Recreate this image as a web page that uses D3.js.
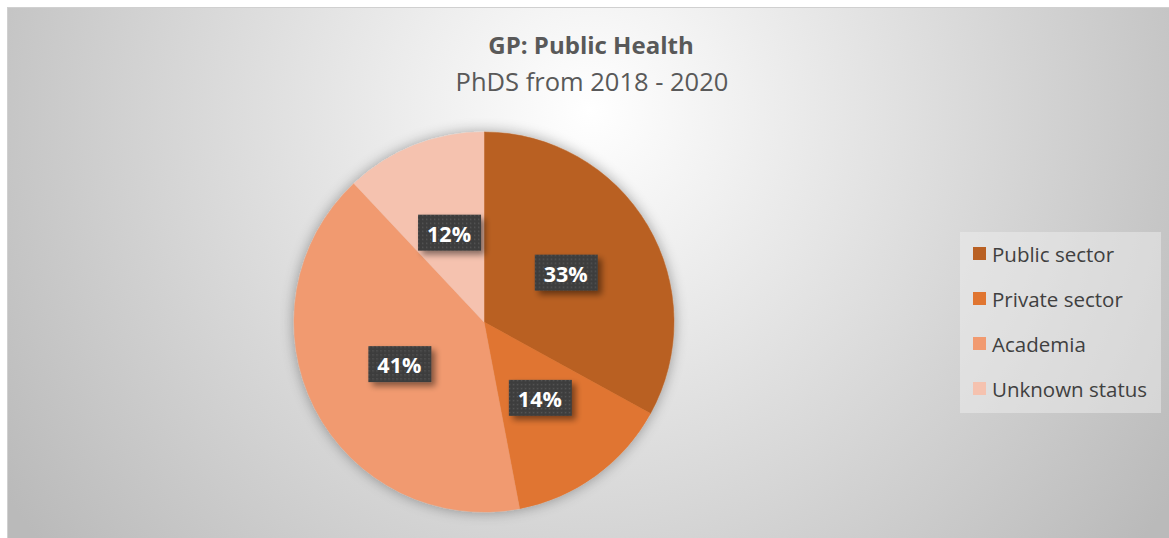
<!DOCTYPE html>
<html>
<head>
<meta charset="utf-8">
<script src="https://cdn.jsdelivr.net/npm/d3@7"></script>
<style>
  html, body { margin: 0; padding: 0; background: #fff; }
  svg { display: block; }
</style>
</head>
<body>
<svg id="chart" width="1169" height="538"></svg>
<script>
var width = 1169, height = 538;

// data
const categories = ['Public sector', 'Private sector', 'Academia', 'Unknown status'];
const values = [33, 14, 41, 12];
const colors = ['#B96023', '#E07530', '#F19A70', '#F5C2AF'];
const titleText = 'GP: Public Health';
const subtitleText = 'PhDS from 2018 - 2020';

const svg = d3.select('svg#chart');
const defs = svg.append('defs');

// background gradient, white near the title and grey to the corners
const bg = defs.append('radialGradient')
  .attr('id', 'bgGrad')
  .attr('gradientUnits', 'userSpaceOnUse')
  .attr('cx', 590).attr('cy', 110).attr('r', 700);
bg.append('stop').attr('offset', '0%').attr('stop-color', '#ffffff');
bg.append('stop').attr('offset', '100%').attr('stop-color', '#bababa');

// soft shadow for the pie and labels
const sh = defs.append('filter').attr('id', 'pieShadow')
  .attr('x', '-20%').attr('y', '-20%').attr('width', '140%').attr('height', '140%');
sh.append('feGaussianBlur').attr('in', 'SourceAlpha').attr('stdDeviation', 7).attr('result', 'b');
sh.append('feComponentTransfer').attr('in', 'b').attr('result', 'b2')
  .append('feFuncA').attr('type', 'linear').attr('slope', 0.35);
let m = sh.append('feMerge');
m.append('feMergeNode').attr('in', 'b2');
m.append('feMergeNode').attr('in', 'SourceGraphic');

const lsh = defs.append('filter').attr('id', 'lblShadow')
  .attr('x', '-30%').attr('y', '-30%').attr('width', '170%').attr('height', '180%');
lsh.append('feGaussianBlur').attr('in', 'SourceAlpha').attr('stdDeviation', 3).attr('result', 'b');
lsh.append('feOffset').attr('in', 'b').attr('dx', 4).attr('dy', 4).attr('result', 'o');
lsh.append('feComponentTransfer').attr('in', 'o').attr('result', 'o2')
  .append('feFuncA').attr('type', 'linear').attr('slope', 0.45);
m = lsh.append('feMerge');
m.append('feMergeNode').attr('in', 'o2');
m.append('feMergeNode').attr('in', 'SourceGraphic');

// dotted fill for the data label boxes
const pat = defs.append('pattern').attr('id', 'dots')
  .attr('patternUnits', 'userSpaceOnUse').attr('width', 4).attr('height', 4);
pat.append('rect').attr('width', 4).attr('height', 4).attr('fill', '#3e3e3e');
pat.append('rect').attr('x', 1).attr('y', 1).attr('width', 1.3).attr('height', 1.3).attr('fill', '#575757');

// chart area
svg.append('rect')
  .attr('x', 7.5).attr('y', 7.5)
  .attr('width', width).attr('height', height)
  .attr('fill', 'url(#bgGrad)')
  .attr('stroke', '#d0d0d0');

// titles
svg.append('text')
  .attr('x', 591).attr('y', 54)
  .attr('text-anchor', 'middle')
  .style('font-family', 'Open Sans, sans-serif')
  .style('font-size', '24px').style('font-weight', 'bold')
  .attr('fill', '#595959')
  .text(titleText);

svg.append('text')
  .attr('x', 592).attr('y', 91)
  .attr('text-anchor', 'middle')
  .style('font-family', 'Open Sans, sans-serif')
  .style('font-size', '25.5px')
  .attr('fill', '#595959')
  .text(subtitleText);

// pie
const cx = 484, cy = 322, R = 190;
const pie = d3.pie().sort(null).value(d => d.value);
const arc = d3.arc().innerRadius(0).outerRadius(R);
const data = categories.map((c, i) => ({ name: c, value: values[i], color: colors[i] }));
const arcs = pie(data);

const g = svg.append('g').attr('transform', `translate(${cx},${cy})`);

g.append('g')
  .attr('filter', 'url(#pieShadow)')
  .selectAll('path')
  .data(arcs)
  .enter().append('path')
  .attr('d', arc)
  .attr('fill', d => d.data.color)
  .attr('stroke', d => d.data.color)
  .attr('stroke-width', 0.5);

// labels
const lbl = g.selectAll('g.lbl')
  .data(arcs)
  .enter().append('g')
  .attr('class', 'lbl')
  .attr('transform', d => `translate(${arc.centroid(d)})`);

lbl.append('rect')
  .attr('x', -31).attr('y', -19)
  .attr('width', 63).attr('height', 36)
  .attr('fill', 'url(#dots)')
  .attr('filter', 'url(#lblShadow)');

lbl.append('text')
  .attr('text-anchor', 'middle')
  .attr('y', 8)
  .style('font-family', 'Open Sans, sans-serif')
  .style('font-size', '21.5px').style('font-weight', 'bold')
  .attr('fill', '#ffffff')
  .text(d => d.data.value + '%');

// legend
const leg = svg.append('g');
leg.append('rect')
  .attr('x', 960).attr('y', 232)
  .attr('width', 201).attr('height', 181)
  .attr('fill', '#f2f2f2').attr('fill-opacity', 0.45);

const ly = d3.scalePoint().domain(categories).range([254, 389]);

const items = leg.selectAll('g.item')
  .data(data)
  .enter().append('g')
  .attr('class', 'item')
  .attr('transform', d => `translate(973,${ly(d.name)})`);

items.append('rect')
  .attr('x', 0).attr('y', -7)
  .attr('width', 13).attr('height', 13)
  .attr('fill', d => d.color);

items.append('text')
  .attr('x', 19).attr('y', 7.5)
  .style('font-family', 'Open Sans, sans-serif')
  .style('font-size', '20.5px')
  .attr('fill', '#404040')
  .text(d => d.name);
</script>
</body>
</html>
